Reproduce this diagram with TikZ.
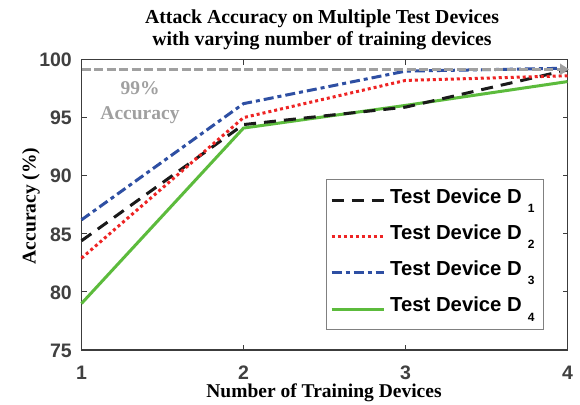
\documentclass[tikz,border=0pt]{standalone}
\usepackage{fontspec}
\setmainfont{Liberation Serif}
\setsansfont{Liberation Sans}
\usetikzlibrary{arrows.meta}
\definecolor{axisgray}{HTML}{3C3C3C}
\definecolor{ticktext}{HTML}{404040}
\definecolor{refgray}{HTML}{A0A0A0}
\definecolor{dblue}{HTML}{2E4FA3}
\definecolor{dred}{HTML}{EE2424}
\definecolor{dgreen}{HTML}{5CBB3C}
\definecolor{dblack}{HTML}{1A1A1A}
\tikzset{
  frame/.style={draw=axisgray, line width=1.1pt},
  tickmark/.style={draw=axisgray, line width=1.1pt},
  ticklabel/.style={font=\sffamily\bfseries\fontsize{19.5}{19.5}\selectfont, text=ticktext, inner sep=0pt},
  titletext/.style={font=\rmfamily\bfseries\fontsize{19.8}{22}\selectfont, align=center, inner sep=0pt},
  axislabel/.style={font=\rmfamily\bfseries\fontsize{19.5}{19.5}\selectfont, inner sep=0pt},
  reftext/.style={font=\rmfamily\bfseries\fontsize{19.5}{25}\selectfont, text=refgray, align=center, inner sep=0pt},
  serD1/.style={draw=dblack, line width=3pt, dash pattern=on 12pt off 8pt},
  serD2/.style={draw=dred, line width=3pt, dash pattern=on 3pt off 3pt},
  serD3/.style={draw=dblue, line width=3pt, dash pattern=on 10pt off 4pt on 4pt off 4pt},
  serD4/.style={draw=dgreen, line width=3pt},
  refline/.style={draw=refgray, line width=2.5pt, dash pattern=on 9pt off 3.5pt, -{Triangle[length=9pt,width=11pt]}},
  legendbox/.style={draw=gray, line width=0.8pt, fill=white},
  legendtext/.style={font=\sffamily\bfseries\fontsize{20.3}{20.3}\selectfont, text=black, inner sep=0pt, anchor=base west},
}
\newcommand{\legsub}[1]{\hspace{6pt}\raisebox{-9.3pt}{\fontsize{12}{12}\selectfont #1}}
\begin{document}
\begin{tikzpicture}[x=1pt, y=-1pt,
  declare function={X(\n)=81.5+(\n-1)*162; Y(\v)=350-(\v-75)*11.62;}]
\useasboundingbox (0,0) rectangle (580,404);
\fill[white] (0,0) rectangle (580,404);

% title
\node[titletext] (title) at (322,30) {Attack Accuracy on Multiple Test Devices\\with varying number of training devices};

% axes frame
\coordinate (ll) at ({X(1)},{Y(75)});
\coordinate (ur) at ({X(4)},{Y(100)});
\draw[frame] (ll) rectangle (ur);

% ticks on all four sides
\foreach \n in {2,3} {
  \draw[tickmark] ({X(\n)},{Y(75)}) -- ++(0,-5);
  \draw[tickmark] ({X(\n)},{Y(100)}) -- ++(0,5);
}
\foreach \v in {80,85,90,95} {
  \draw[tickmark] ({X(1)},{Y(\v)}) -- ++(5,0);
  \draw[tickmark] ({X(4)},{Y(\v)}) -- ++(-5,0);
}

% tick labels
\foreach \v in {75,80,85,90,95,100}
  \node[ticklabel, anchor=east] (yl\v) at (72,{Y(\v)+0.5}) {\v};
\foreach \n in {1,2,3,4}
  \node[ticklabel] (xl\n) at ({X(\n)},373) {\n};

% axis labels
\node[axislabel] (xlabel) at (324,393) {Number of Training Devices};
\node[axislabel, rotate=90] (ylabel) at (31,206) {Accuracy (\%)};

% data points
\foreach \s/\a/\b/\c/\d in {d1/84.4/94.4/95.9/99.1, d2/82.9/95.0/98.2/98.6, d3/86.2/96.2/99.0/99.25, d4/79.0/94.1/96.05/98.1} {
  \coordinate (\s-1) at ({X(1)},{Y(\a)});
  \coordinate (\s-2) at ({X(2)},{Y(\b)});
  \coordinate (\s-3) at ({X(3)},{Y(\c)});
  \coordinate (\s-4) at ({X(4)},{Y(\d)});
}
\draw[serD4] (d4-1) -- (d4-2) -- (d4-3) -- (d4-4);
\draw[serD1] (d1-1) -- (d1-2) -- (d1-3) -- (d1-4);
\draw[serD2] (d2-1) -- (d2-2) -- (d2-3) -- (d2-4);
\draw[serD3] (d3-1) -- (d3-2) -- (d3-3) -- (d3-4);

% 99% reference line
\coordinate (ref-a) at ({X(1)},69.3);
\coordinate (ref-b) at (569,69.3);
\draw[refline] (ref-a) -- (ref-b);
\node[reftext] (reflabel) at (140,103) {99\%\\Accuracy};

% legend
\draw[legendbox] (326,179.3) rectangle (543.3,329.3);
\foreach \k/\y/\st in {1/200.7/serD1, 2/236.7/serD2, 3/272.7/serD3, 4/309/serD4} {
  \coordinate (leg\k-a) at (331.7,\y);
  \coordinate (leg\k-b) at (384.3,\y);
  \draw[\st] (leg\k-a) -- (leg\k-b);
  \node[legendtext] (legtext\k) at (390,\y+2.8) {Test Device D\legsub{\k}};
}
\end{tikzpicture}
\end{document}
